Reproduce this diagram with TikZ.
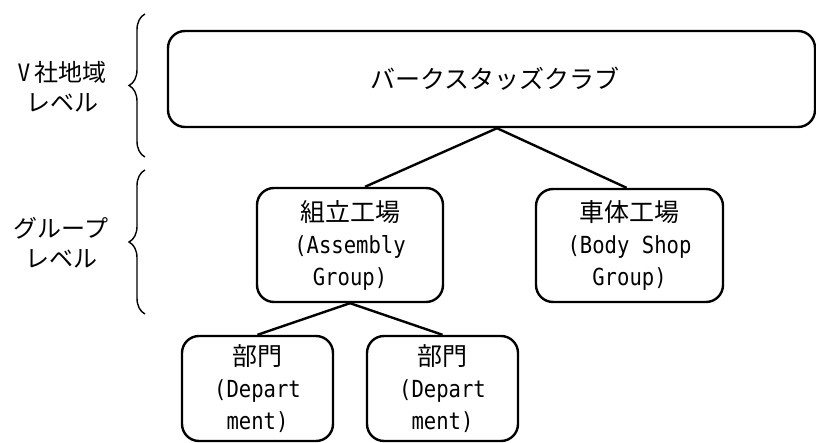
\documentclass[tikz,border=0pt]{standalone}
\usepackage{fontspec}
\setmainfont{Noto Sans CJK JP}
\newfontfamily\lat[FakeStretch=0.875]{DejaVu Sans Mono}
\newcommand\latl[1]{{\lat\fontsize{23.5}{32}\selectfont #1}}
\usetikzlibrary{decorations.pathreplacing}
\begin{document}
\begin{tikzpicture}[x=1pt,y=-1pt,
  box/.style={draw, line width=2.4pt, rounded corners=17pt, align=center,
    inner sep=0pt, font=\fontsize{25}{32}\selectfont},
  conn/.style={line width=2.4pt},
  lvl/.style={align=center, inner sep=0pt, font=\fontsize{24}{30}\selectfont},
  brc/.style={line width=1.4pt, decorate, decoration={brace, amplitude=16pt}}
]
\useasboundingbox (0,0) rectangle (816,443);
\node[box, minimum width=647pt, minimum height=96pt] (top) at (491.5,79) {\hspace*{7pt}バークスタッズクラブ};
\node[box, minimum width=186pt, minimum height=114pt] (asm) at (350,245)
  {組立工場\\\latl{(Assembly}\\\latl{Group)}};
\node[box, minimum width=187pt, minimum height=113pt] (body) at (629.5,245.5)
  {車体工場\\\latl{(Body Shop}\\\latl{Group)}};
\node[box, minimum width=151pt, minimum height=105pt] (d1) at (257.5,388.5)
  {部門\\\latl{(Depart}\\\latl{ment)}};
\node[box, minimum width=151pt, minimum height=105pt] (d2) at (442.5,388.5)
  {部門\\\latl{(Depart}\\\latl{ment)}};
\node[lvl] (l1) at (62,87) {{\lat\fontsize{24}{30}\selectfont V}\,社地域\\レベル};
\node[lvl] (l2) at (61,243) {グループ\\レベル};
\coordinate (b1s) at (145,157);
\coordinate (b1e) at (145,14);
\coordinate (b2s) at (145,314);
\coordinate (b2e) at (145,170);
\draw[brc] (b1s) -- (b1e);
\draw[brc] (b2s) -- (b2e);
\draw[conn] ([xshift=5.5pt]top.south) -- ([xshift=15pt]asm.north);
\draw[conn] ([xshift=5.5pt]top.south) -- ([xshift=-3pt]body.north);
\draw[conn] (asm.south) -- (d1.north);
\draw[conn] (asm.south) -- (d2.north);
\end{tikzpicture}
\end{document}
